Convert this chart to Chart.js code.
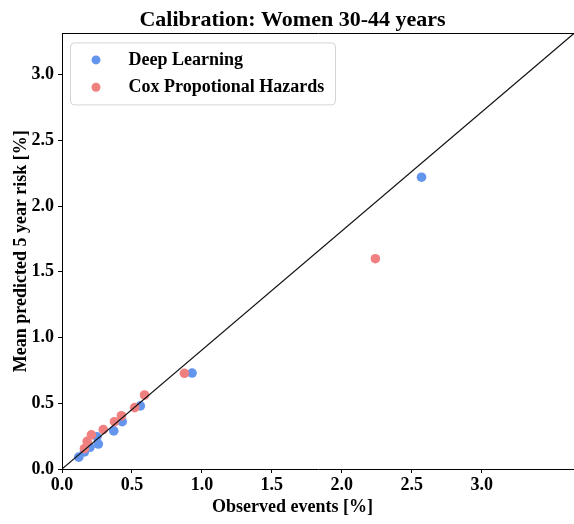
<!DOCTYPE html>
<html>
<head>
<meta charset="utf-8">
<script src="https://cdn.jsdelivr.net/npm/chart.js@4.4.1/dist/chart.umd.min.js"></script>
<style>
  html, body { margin: 0; padding: 0; background: #fff; }
  canvas { display: block; }
</style>
</head>
<body>
<canvas id="chart" width="574" height="524"></canvas>
<script>
// chart text
const chartTitle = 'Calibration: Women 30-44 years';
const xLabel = 'Observed events [%]';
const yLabel = 'Mean predicted 5 year risk [%]';
const seriesNames = ['Deep Learning', 'Cox Propotional Hazards'];

// calibration points
const dlObserved  = [0.12, 0.16, 0.20, 0.26, 0.25, 0.37, 0.43, 0.56, 0.93, 2.57];
const dlPredicted = [0.09, 0.13, 0.165, 0.19, 0.245, 0.29, 0.36, 0.48, 0.73, 2.22];
const coxObserved  = [0.16, 0.18, 0.21, 0.295, 0.375, 0.425, 0.52, 0.59, 0.875, 2.24];
const coxPredicted = [0.155, 0.21, 0.26, 0.30, 0.36, 0.405, 0.467, 0.563, 0.728, 1.60];

// axes
const xTicks = [0, 0.5, 1.0, 1.5, 2.0, 2.5, 3.0];
const yTicks = [0, 0.5, 1.0, 1.5, 2.0, 2.5, 3.0];
const xMax = 3.66;
const yMax = 3.314;

const serif = '"Liberation Serif", "Times New Roman", serif';
const boldFont = (size) => ({ family: serif, size: size, weight: 'bold' });
const toPoints = (xs, ys) => xs.map((x, i) => ({ x: x, y: ys[i] }));

// legend drawn inside the plot with a rounded frame
const legendBox = {
  id: 'legendBox',
  afterDatasetsDraw(chart) {
    const { ctx, chartArea } = chart;
    const x = chartArea.left + 8.5, y = chartArea.top + 9.5, w = 265, h = 62;
    ctx.save();
    ctx.beginPath();
    ctx.roundRect(x, y, w, h, 4);
    ctx.fillStyle = 'rgba(255,255,255,0.8)';
    ctx.fill();
    ctx.strokeStyle = '#d4d4d4';
    ctx.lineWidth = 1;
    ctx.stroke();
    ctx.font = 'bold 18px ' + serif;
    ctx.textBaseline = 'middle';
    chart.data.datasets.filter(d => d.inLegend).forEach((ds, i) => {
      const cy = y + 17 + i * 27.3;
      ctx.beginPath();
      ctx.arc(x + 25.5, cy, 4.5, 0, Math.PI * 2);
      ctx.fillStyle = ds.backgroundColor;
      ctx.fill();
      ctx.fillStyle = '#000';
      ctx.fillText(ds.label, x + 58, cy);
    });
    ctx.restore();
  }
};

new Chart(document.getElementById('chart'), {
  type: 'scatter',
  data: {
    datasets: [
      {
        type: 'line',
        label: 'diagonal',
        data: [{ x: 0, y: 0 }, { x: xMax, y: yMax }],
        borderColor: '#111',
        borderWidth: 1.2,
        pointRadius: 0,
        order: 0
      },
      {
        label: seriesNames[0],
        data: toPoints(dlObserved, dlPredicted),
        backgroundColor: '#6495ED',
        borderWidth: 0,
        pointRadius: 4.8,
        inLegend: true,
        order: 2
      },
      {
        label: seriesNames[1],
        data: toPoints(coxObserved, coxPredicted),
        backgroundColor: '#F08080',
        borderWidth: 0,
        pointRadius: 4.8,
        inLegend: true,
        order: 1
      }
    ]
  },
  options: {
    responsive: false,
    animation: false,
    layout: { autoPadding: false, padding: { left: 11, right: 0, top: 0, bottom: 0 } },
    plugins: {
      legend: { display: false },
      tooltip: { enabled: false },
      title: {
        display: true,
        text: chartTitle,
        color: '#000',
        font: boldFont(22),
        padding: { top: 7, bottom: 0 }
      },
      subtitle: {
        display: true,
        position: 'bottom',
        text: xLabel,
        color: '#000',
        font: boldFont(18),
        padding: { top: 0, bottom: 5.4 }
      }
    },
    scales: {
      x: {
        type: 'linear',
        position: 'bottom',
        min: 0,
        max: xMax,
        afterBuildTicks: (s) => { s.ticks = xTicks.map(v => ({ value: v })); },
        afterFit: (s) => { s.height = 28; },
        ticks: {
          color: '#000',
          font: boldFont(18),
          padding: 2,
          maxRotation: 0,
          callback: (v) => v.toFixed(1)
        },
        grid: { drawOnChartArea: false, color: '#000', tickLength: 4 },
        border: { color: '#000', width: 1 }
      },
      xTop: {
        type: 'linear',
        position: 'top',
        min: 0,
        max: xMax,
        afterFit: (s) => { s.height = 0; },
        ticks: { display: false },
        grid: { display: false, drawTicks: false },
        border: { display: true, color: '#000', width: 1 }
      },
      y: {
        type: 'linear',
        min: 0,
        max: yMax,
        afterBuildTicks: (s) => { s.ticks = yTicks.map(v => ({ value: v })); },
        afterFit: (s) => { s.width = 51; },
        ticks: {
          color: '#000',
          font: boldFont(18),
          padding: 4,
          callback: (v) => v.toFixed(1)
        },
        grid: { drawOnChartArea: false, color: '#000', tickLength: 4 },
        border: { color: '#000', width: 1 },
        title: {
          display: true,
          text: yLabel,
          color: '#000',
          font: boldFont(18),
          padding: { top: 0, bottom: 2 }
        }
      }
    }
  },
  plugins: [legendBox]
});
</script>
</body>
</html>
